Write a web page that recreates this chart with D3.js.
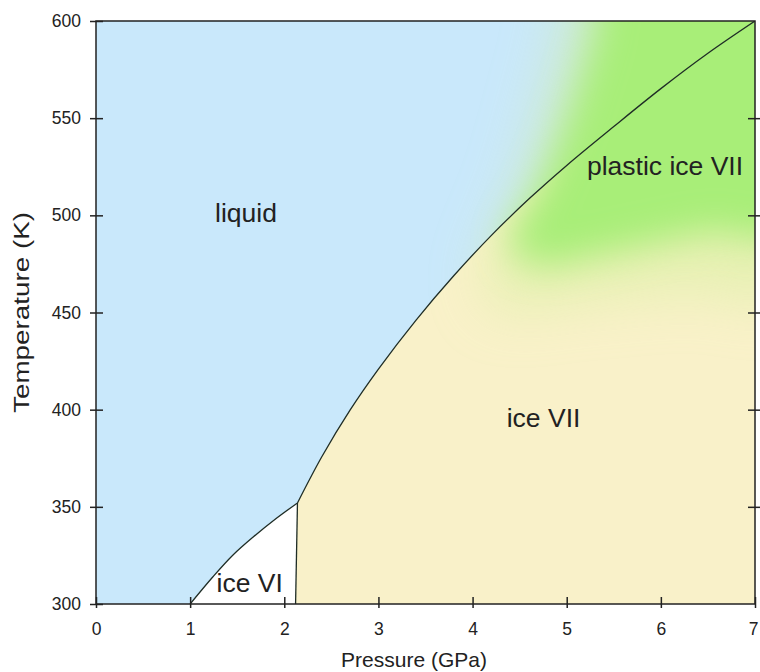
<!DOCTYPE html>
<html><head><meta charset="utf-8">
<script src="https://cdn.jsdelivr.net/npm/d3@7"></script>
<style>body{margin:0;background:#fff}svg{display:block}text{font-family:"Liberation Sans",Arial,sans-serif;fill:#222}</style>
</head><body>
<svg id="c" width="760" height="672"></svg>
<script>
// ---- data ----
const xTicks = [0,1,2,3,4,5,6,7];
const yTicks = [300,350,400,450,500,550,600];
// liquid / ice VII (and plastic ice VII) melting curve (P GPa, T K)
const meltP = [2.14,2.40,2.70,3.00,3.40,3.80,4.20,4.60,5.00,5.50,6.00,6.50,7.00];
const meltT = [352,375.9,399.9,420.9,446.1,468.9,489.7,508.5,525.7,545.7,565.2,583.4,600];
// liquid / ice VI boundary
const vi6P = [1.00,1.24,1.45,1.67,1.90,2.14];
const vi6T = [300,313.9,325,334.5,343.5,352];
// ice VI / ice VII boundary
const vi7P = [2.14,2.12];
const vi7T = [352,300];
// approximate extent of the plastic ice VII zone (soft edged)
const plasP = [5.60,7.50,7.50,6.50,5.50,4.75,4.40,4.70,5.00,5.30];
const plasT = [640,640,500,492,482,475,486,512,547,592];
const haloP = [5.30,7.50,7.50,6.30,5.00,4.30,4.15,4.55,4.95];
const haloT = [640,640,470,462,456,452,470,520,590];
const labels = [
  {text:"liquid", p:1.593, t:496.6},
  {text:"plastic ice VII", p:6.044, t:520.8},
  {text:"ice VII", p:4.754, t:391.1},
  {text:"ice VI", p:1.633, t:306.3}
];

const svg = d3.select("#c");
const L=96, R=755, T=21, B=604;
const x = d3.scaleLinear().domain([0,7]).range([L,R]);
const y = d3.scaleLinear().domain([300,600]).range([B,T]);
const pts = (P,Tt)=>P.map((p,i)=>[x(p),y(Tt[i])]);
const melt = pts(meltP,meltT), vi6 = pts(vi6P,vi6T), vi7 = pts(vi7P,vi7T);
const lineS = d3.line().curve(d3.curveCatmullRom.alpha(0.5));
const stroke = "#1f2d26";

const defs = svg.append("defs");
defs.append("clipPath").attr("id","clip").append("rect").attr("x",L).attr("y",T).attr("width",R-L).attr("height",B-T);
const mkBlur=(id,s)=>defs.append("filter").attr("id",id).attr("x","-50%").attr("y","-50%").attr("width","200%").attr("height","200%")
  .append("feGaussianBlur").attr("stdDeviation",s);
mkBlur("blur",18); mkBlur("blur2",28);

const g = svg.append("g").attr("clip-path","url(#clip)");
// ice VII background
g.append("rect").attr("x",L).attr("y",T).attr("width",R-L).attr("height",B-T).attr("fill","#f9f1c9");
// liquid
const liquidPath = lineS(vi6) + lineS(melt).replace(/^M/,"L") + `L${x(7)},${y(600)}L${x(0)},${y(600)}L${x(0)},${y(300)}Z`;
g.append("path").attr("d", liquidPath).attr("fill","#c9e8fb");
// ice VI
g.append("path").attr("d", lineS(vi6)+`L${x(2.12)},${y(300)}Z`).attr("fill","#ffffff");
// plastic ice VII soft zone
g.append("path").attr("d", d3.line().curve(d3.curveCardinalClosed)(pts(haloP,haloT)))
  .attr("fill","#d4f09c").attr("opacity",0.55).attr("filter","url(#blur2)");
g.append("path").attr("d", d3.line().curve(d3.curveCardinalClosed)(pts(plasP,plasT)))
  .attr("fill","#a8ee78").attr("filter","url(#blur)");

// boundaries
g.append("path").attr("d", lineS(melt)).attr("fill","none").attr("stroke",stroke).attr("stroke-width",1.3);
g.append("path").attr("d", lineS(vi6)).attr("fill","none").attr("stroke",stroke).attr("stroke-width",1.3);
g.append("path").attr("d", d3.line()(vi7)).attr("fill","none").attr("stroke",stroke).attr("stroke-width",1.3);

// frame
svg.append("rect").attr("x",L).attr("y",T).attr("width",R-L).attr("height",B-T)
  .attr("fill","none").attr("stroke","#222").attr("stroke-width",1.5);

// axes
const fnt = "'Liberation Sans',Arial,sans-serif";
const ax = svg.append("g").attr("transform",`translate(0,${B})`)
  .call(d3.axisBottom(x).tickValues(xTicks).tickFormat(d3.format("d")).tickSize(4).tickPadding(15).tickSizeOuter(0));
ax.select(".domain").remove();
ax.selectAll(".tick line").attr("y1",-7).attr("y2",4).attr("stroke","#222").attr("stroke-width",1.5);
ax.selectAll(".tick text").attr("font-size",17.5).style("font-family",fnt).attr("fill","#222")
  .attr("dx",d=>d===7?-2:0);

const ay = svg.append("g").attr("transform",`translate(${L},0)`)
  .call(d3.axisLeft(y).tickValues(yTicks).tickFormat(d3.format("d")).tickSize(6).tickPadding(9).tickSizeOuter(0));
ay.select(".domain").remove();
ay.selectAll(".tick line").attr("x1",-6).attr("x2",7).attr("stroke","#222").attr("stroke-width",1.5);
ay.selectAll(".tick text").attr("font-size",17.5).style("font-family",fnt).attr("fill","#222");

const ar = svg.append("g").attr("transform",`translate(${R},0)`)
  .call(d3.axisRight(y).tickValues(yTicks.slice(1,-1)).tickSize(5).tickFormat("").tickSizeOuter(0));
ar.select(".domain").remove();
ar.selectAll(".tick line").attr("x1",-7).attr("x2",5).attr("stroke","#222").attr("stroke-width",1.5);

// axis titles
svg.append("text").attr("x",414).attr("y",667).attr("text-anchor","middle").attr("font-size",21).text("Pressure (GPa)");
svg.append("text").attr("transform",`translate(29,312.5) rotate(-90)`).attr("text-anchor","middle").attr("font-size",21.5)
  .attr("textLength",201).attr("lengthAdjust","spacingAndGlyphs").text("Temperature (K)");

// region labels
svg.selectAll("text.lab").data(labels).join("text").attr("class","lab")
  .attr("x",d=>x(d.p)).attr("y",d=>y(d.t)).attr("text-anchor","middle")
  .attr("font-size",26.5).text(d=>d.text);
</script>
</body></html>
